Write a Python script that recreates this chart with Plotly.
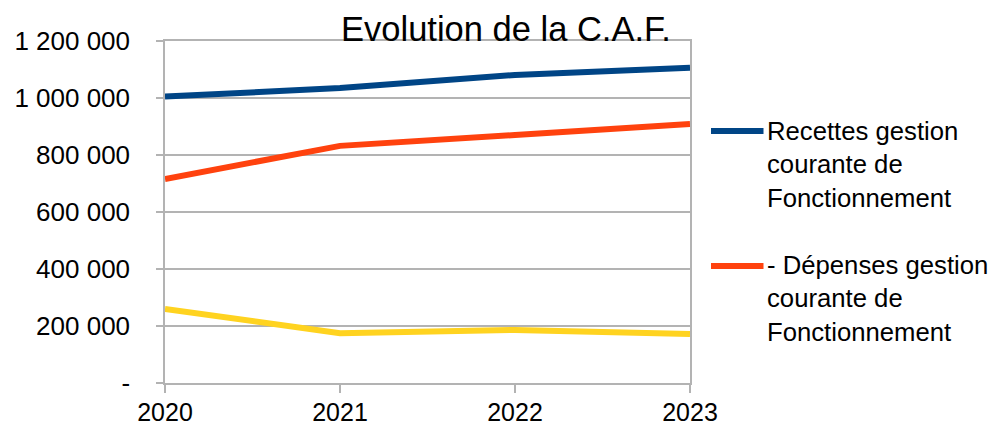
import plotly.graph_objects as go

# data
years = ["2020", "2021", "2022", "2023"]
recettes = [1005000, 1035000, 1081000, 1106000]
depenses = [716000, 832000, 870000, 909000]
caf = [260000, 175000, 186000, 172000]

y_ticks = [0, 200000, 400000, 600000, 800000, 1000000, 1200000]
y_ticktext = ["-", "200 000", "400 000", "600 000", "800 000", "1 000 000", "1 200 000"]

legend_names = ["Recettes gestion<br>courante de<br>Fonctionnement",
                "- Dépenses gestion<br>courante de<br>Fonctionnement"]

BLUE = "#004586"
ORANGE = "#ff420e"
YELLOW = "#ffd320"
GRID = "#b3b3b3"
FONT = "Liberation Sans, Arial, sans-serif"

fig = go.Figure()
fig.add_trace(go.Scatter(x=years, y=recettes, mode="lines", name="Recettes",
                         line=dict(color=BLUE, width=6), showlegend=False))
fig.add_trace(go.Scatter(x=years, y=depenses, mode="lines", name="Dépenses",
                         line=dict(color=ORANGE, width=6), showlegend=False))
fig.add_trace(go.Scatter(x=years, y=caf, mode="lines", name="C.A.F.",
                         line=dict(color=YELLOW, width=6), showlegend=False))

# the page body adds an 8px offset, so the figure is a bit smaller than the window
fig.update_layout(
    width=992, height=417,
    margin=dict(l=157, r=310, t=33, b=42),
    paper_bgcolor="white", plot_bgcolor="white",
    font=dict(family=FONT, color="black", size=26),
    title=dict(text="Evolution de la C.A.F.", x=0.502, xanchor="center",
               y=1 - 21 / 417, yanchor="middle", yref="container",
               font=dict(size=34.5, family=FONT, color="black"),
               automargin=False),
)

fig.update_xaxes(
    type="category", range=[0, 3], showgrid=False, automargin=False,
    showline=True, linecolor=GRID, linewidth=1.5, mirror=True,
    ticks="outside", ticklen=8, tickcolor=GRID, tickwidth=1.5,
    ticklabelstandoff=-2,
    tickfont=dict(size=25, family=FONT, color="black"),
)
fig.update_yaxes(
    range=[0, 1200000], tickvals=y_ticks, ticktext=y_ticktext,
    showgrid=True, gridcolor=GRID, gridwidth=1.5, zeroline=False, automargin=False,
    showline=True, linecolor=GRID, linewidth=1.5, mirror=True,
    ticks="outside", ticklen=7, tickcolor=GRID, tickwidth=1.5,
    ticklabelstandoff=21,
    tickfont=dict(size=26, family=FONT, color="black"),
)

# legend drawn by hand so the key lines are long like the original
colors = [BLUE, ORANGE]
key_y = [0.737, 0.342]
text_y = [0.640, 0.2485]
for c, ky, ty, name in zip(colors, key_y, text_y, legend_names):
    fig.add_shape(type="line", xref="paper", yref="paper",
                  x0=1.04, x1=1.14, y0=ky, y1=ky,
                  line=dict(color=c, width=6))
    fig.add_annotation(xref="paper", yref="paper", x=1.143, y=ty,
                       xanchor="left", yanchor="middle", align="left",
                       text=name, showarrow=False,
                       font=dict(size=25.7, family=FONT, color="black"))

fig.write_html("out.html")
